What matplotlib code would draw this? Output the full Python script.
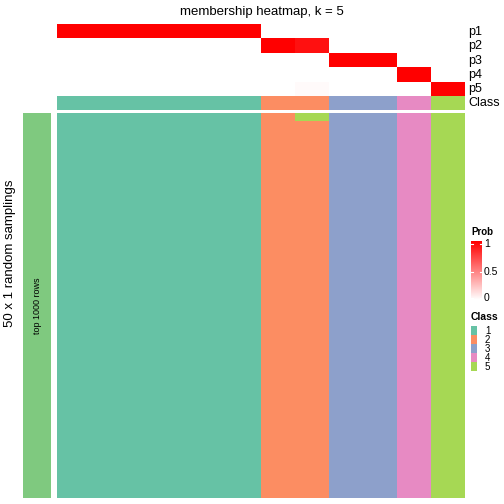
"""Membership heatmap for k = 5 consensus partition."""

import matplotlib
matplotlib.use("Agg")
import matplotlib.pyplot as plt
import numpy as np
from matplotlib.colors import LinearSegmentedColormap, ListedColormap

plt.rcParams["font.family"] = ["Liberation Sans", "DejaVu Sans"]

# membership probabilities for each sample column (rows p1..p5)
prob_labels = ["p1", "p2", "p3", "p4", "p5"]
p1 = [1, 1, 1, 1, 1, 1, 0, 0, 0, 0, 0, 0]
p2 = [0, 0, 0, 0, 0, 0, 1, 0.93, 0, 0, 0, 0]
p3 = [0, 0, 0, 0, 0, 0, 0, 0, 1, 1, 0, 0]
p4 = [0, 0, 0, 0, 0, 0, 0, 0, 0, 0, 1, 0]
p5 = [0, 0, 0, 0, 0, 0, 0, 0.02, 0, 0, 0, 1]
col_class = [1, 1, 1, 1, 1, 1, 2, 2, 3, 3, 4, 5]

# 50 random samplings: class of each sampling per column; only one deviates
n_samplings = 50
odd_col = 7
odd_rows = [0]
odd_class = 5

class_colors = ["#66C2A5", "#FC8D62", "#8DA0CB", "#E78AC3", "#A6D854"]
class_names = ["1", "2", "3", "4", "5"]

W = H = 504.0


def px_axes(fig, x0, y0, x1, y1):
    return fig.add_axes([x0 / W, 1 - y1 / H, (x1 - x0) / W, (y1 - y0) / H])


def blank(ax, color):
    ax.set_facecolor(color)
    ax.set_xticks([])
    ax.set_yticks([])
    for s in ax.spines.values():
        s.set_visible(False)


fig = plt.figure(figsize=(5.04, 5.04), dpi=100)
prob_cmap = LinearSegmentedColormap.from_list("prob", ["white", "red"])
class_cmap = ListedColormap(class_colors)

# probability rows
ax_p = px_axes(fig, 57, 24, 465, 96)
probs = np.array([p1, p2, p3, p4, p5])
ax_p.imshow(probs, cmap=prob_cmap, vmin=0, vmax=1, aspect="auto",
            interpolation="nearest")
ax_p.axis("off")
for i, lab in enumerate(prob_labels):
    fig.text(468 / W, 1 - (24 + 14.4 * i + 7.8) / H, lab, fontsize=9,
             ha="left", va="center")

# class row
ax_c = px_axes(fig, 57, 96, 465, 110)
ax_c.imshow(np.array([col_class]) - 1, cmap=class_cmap, vmin=-0.5, vmax=4.5,
            aspect="auto", interpolation="nearest")
ax_c.axis("off")
fig.text(468 / W, 1 - 103.5 / H, "Class", fontsize=9, ha="left", va="center")

# main matrix of sampled classes
mat = np.tile(np.array(col_class), (n_samplings, 1))
for r in odd_rows:
    mat[r, odd_col] = odd_class
ax_m = px_axes(fig, 57, 113, 465, 498)
ax_m.imshow(mat - 1, cmap=class_cmap, vmin=-0.5, vmax=4.5, aspect="auto",
            interpolation="nearest")
ax_m.axis("off")

# left row annotation
ax_l = px_axes(fig, 23, 113, 51, 498)
blank(ax_l, "#7FC97F")
ax_l.text(0.5, 0.5, "top 1000 rows", rotation=90, fontsize=6.5,
          ha="center", va="center", transform=ax_l.transAxes)

fig.text(10 / W, 1 - 253 / H, "50 x 1 random samplings", rotation=90,
         fontsize=9.5, ha="center", va="center")
fig.text(262 / W, 1 - 12 / H, "membership heatmap, k = 5", fontsize=9.5,
         ha="center", va="center")

# Prob legend
fig.text(471 / W, 1 - 232 / H, "Prob", fontsize=7, fontweight="bold",
         ha="left", va="center")
ax_cb = px_axes(fig, 471, 241, 482, 300)
grad = np.linspace(1, 0, 100).reshape(-1, 1)
ax_cb.imshow(grad, cmap=prob_cmap, vmin=0, vmax=1, aspect="auto",
             extent=[0, 1, 0, 1])
ax_cb.axis("off")
for v, ypx in [(0, 298), (0.5, 272), (1, 244)]:
    yv = (300 - ypx) / 59.0
    ax_cb.plot([0, 0.2], [yv, yv], color="white", lw=0.8)
    ax_cb.plot([0.8, 1], [yv, yv], color="white", lw=0.8)
    fig.text(484 / W, 1 - ypx / H, f"{v:g}", fontsize=7.5,
             ha="left", va="center")
ax_cb.set_xlim(0, 1)
ax_cb.set_ylim(0, 1)

# Class legend
fig.text(471 / W, 1 - 317 / H, "Class", fontsize=7.5, fontweight="bold",
         ha="left", va="center")
for i, (c, n) in enumerate(zip(class_colors, class_names)):
    y0 = 326 + 9 * i
    ax_b = px_axes(fig, 471, y0, 477, y0 + 9)
    blank(ax_b, c)
    fig.text(485 / W, 1 - (y0 + 4.8) / H, n, fontsize=7, ha="left",
             va="center")

plt.savefig("out.png", dpi=100)
plt.close(fig)
